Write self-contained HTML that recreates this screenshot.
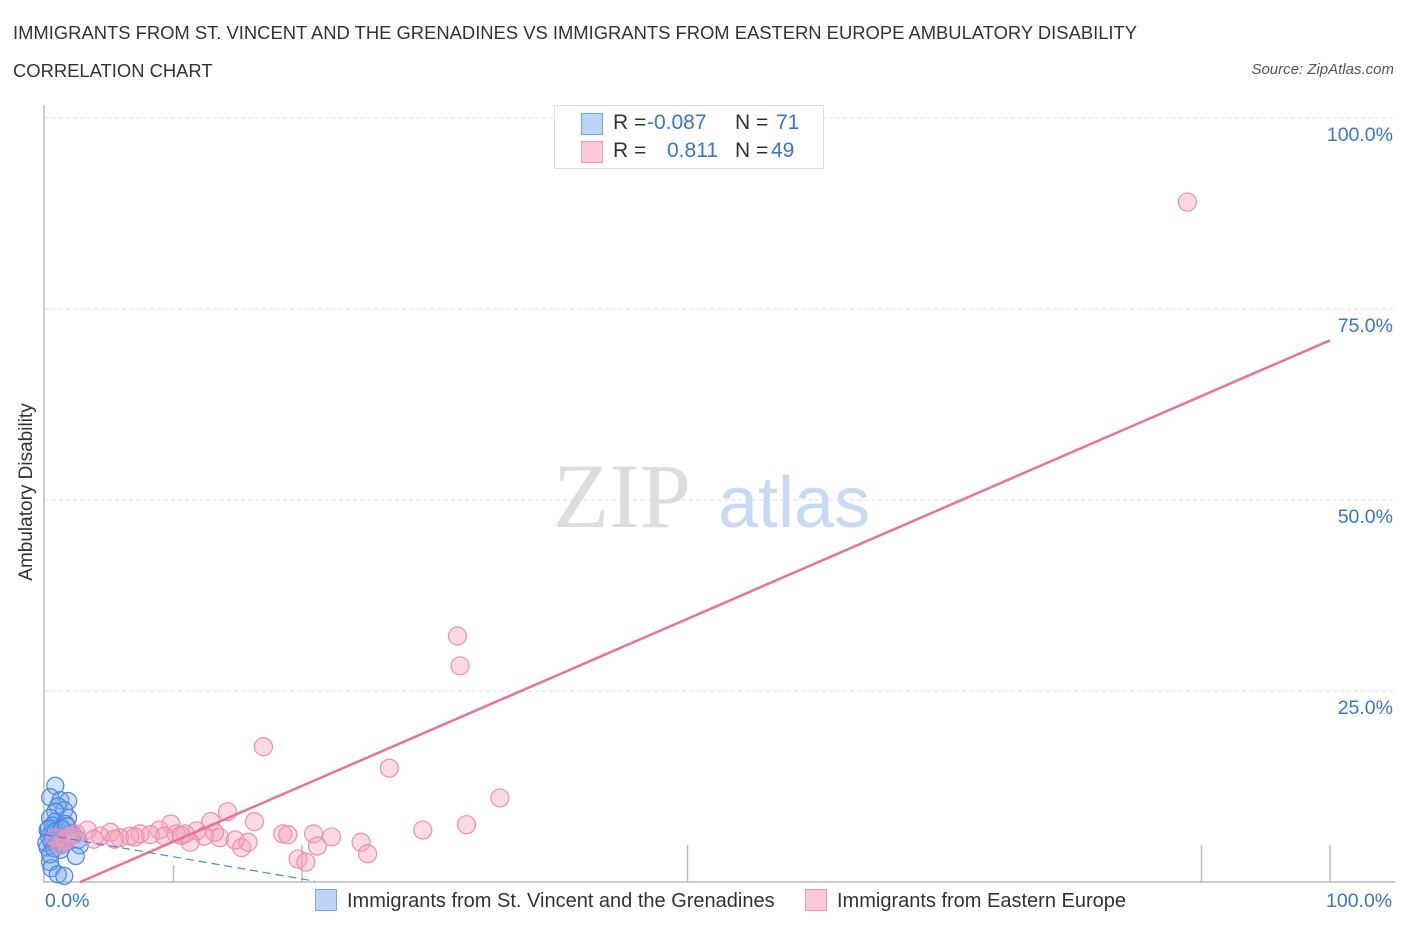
<!DOCTYPE html>
<html><head><meta charset="utf-8">
<style>
body{margin:0;background:#fff;font-family:"Liberation Sans",sans-serif;}
#wrap{position:relative;width:1406px;height:930px;overflow:hidden;}
.t{position:absolute;white-space:nowrap;}
</style></head><body>
<div id="wrap">
<div class="t" style="left:13px;top:14px;font-size:18.4px;color:#333;line-height:38px;">IMMIGRANTS FROM ST. VINCENT AND THE GRENADINES VS IMMIGRANTS FROM EASTERN EUROPE AMBULATORY DISABILITY<br>CORRELATION CHART</div>
<div class="t" style="right:12px;top:61px;font-size:15px;font-style:italic;color:#555;">Source: ZipAtlas.com</div>
<svg id="svg" width="1406" height="930" style="position:absolute;left:0;top:0"></svg>
</div>
<script>
const blueX=[0.8,0.4,1.2,1.8,1.0,1.5,0.8,1.8,0.4,0.8,1.3,0.2,0.6,1.0,0.3,0.7,1.4,2.0,0.5,0.9,1.1,0.2,0.6,1.6,2.6,2.7,2.4,0.4,0.5,1.0,1.5,1.2,0.3,0.8,1.9,0.5,1.3,0.1,0.7,2.2,1.7,0.4];
const blueY=[12.6,11.1,10.7,10.6,9.9,9.4,9.2,8.4,8.4,7.9,7.1,6.8,6.5,6.2,6.0,5.8,5.6,6.4,5.2,5.0,4.8,4.5,7.4,7.6,5.5,4.8,3.4,2.6,1.8,1.0,0.8,4.2,7.0,6.6,5.9,5.4,6.9,5.1,4.4,6.2,7.3,3.6];
const pinkX=[88.9,32.1,32.3,17.0,26.8,35.4,14.2,32.8,29.4,16.3,9.8,12.9,18.5,20.9,22.3,24.6,25.1,19.7,20.3,21.2,15.3,15.8,13.6,13.2,11.8,11.3,10.9,10.2,8.9,8.2,7.4,6.6,5.8,5.1,4.3,3.3,2.4,1.6,0.8,1.2,12.4,3.8,9.3,14.8,18.9,7.0,5.4,2.0,10.6];
const pinkY=[89.0,32.2,28.3,17.7,14.9,11.0,9.2,7.5,6.8,7.9,7.6,7.9,6.3,6.3,5.9,5.2,3.7,3.0,2.6,4.7,4.5,5.2,5.8,6.5,6.7,5.2,6.3,6.3,6.8,6.2,6.3,6.0,5.8,6.5,6.0,6.8,6.3,5.5,5.8,4.8,6.0,5.6,6.0,5.5,6.2,5.9,5.6,6.0,6.1];
const yTicks=[25,50,75,100];
const yTickLabels=["25.0%","50.0%","75.0%","100.0%"];
const xTicks=[10,20,50,90,100];
const pinkFit=[0.729,-2.0];
const blueFit=[-0.29,6.2];
const NS="http://www.w3.org/2000/svg";
const svg=document.getElementById('svg');
const X=v=>45+v*12.85, Y=v=>882-v*7.64;
function mk(tag,at,parent){const e=document.createElementNS(NS,tag);for(const k in at)e.setAttribute(k,at[k]);(parent||svg).appendChild(e);return e;}
yTicks.forEach((t,i)=>{
  const g=mk('line',{x1:45,x2:1395,y1:Y(t),y2:Y(t),stroke:'#ddd','stroke-dasharray':'4,3'});
  
  
  const l=mk('text',{x:1393,y:Y(t)+23,'text-anchor':'end','font-size':19.5,fill:'#3b73d1','font-family':'Liberation Sans'});
  l.textContent=yTickLabels[i];
  
  
});
const ax=mk('line',{x1:44,x2:44,y1:105,y2:883,stroke:'#bbb','stroke-width':1.5});


const bx=mk('line',{x1:44,x2:1395,y1:882,y2:882,stroke:'#bbb','stroke-width':1.5});


xTicks.forEach(t=>{
  const k=mk('line',{x1:X(t),x2:X(t),y1:882,y2:t==10?865:845,stroke:'#bbb','stroke-width':1.5});
  
  
});
const wm=mk('text',{x:553,y:527,'font-size':92,fill:'#ddd','font-family':'Liberation Serif'});wm.textContent='ZIP';


const wm2=mk('text',{x:718,y:527,'font-size':72,fill:'#c8daf3','font-family':'Liberation Sans'});wm2.textContent='atlas';


blueX.forEach((x,i)=>{const c=mk('circle',{cx:X(x),cy:Y(blueY[i]),r:8.5,fill:'rgba(120,170,240,0.35)',stroke:'#4a86dc','stroke-width':1.2});

});
pinkX.forEach((x,i)=>{const c=mk('circle',{cx:X(x),cy:Y(pinkY[i]),r:9,fill:'rgba(245,160,190,0.4)',stroke:'#ec8fae','stroke-width':1.2});

});
const x0=-pinkFit[1]/pinkFit[0];
const pl=mk('line',{x1:X(x0),y1:Y(0),x2:X(100),y2:Y(pinkFit[0]*100+pinkFit[1]),stroke:'#e8729a','stroke-width':2.5});


const bl=mk('line',{x1:X(0),y1:Y(blueFit[1]),x2:X(21),y2:Y(blueFit[0]*21+blueFit[1]),stroke:'#4a86dc','stroke-width':1.2,'stroke-dasharray':'8,5'});


</script>
<div class="t" style="left:-73px;top:481px;font-size:19px;color:#333;transform:rotate(-90deg);width:200px;text-align:center;">Ambulatory Disability</div>
<div class="t" style="left:45px;top:890px;font-size:19.5px;color:#3b73d1;">0.0%</div>
<div class="t" style="left:1326px;top:890px;font-size:19.5px;color:#3b73d1;">100.0%</div>
<div style="position:absolute;left:554px;top:105px;width:268px;height:62px;border:1px solid #ddd;background:#fff;font-size:21px;">
 <div style="position:absolute;left:26px;top:7px;width:20px;height:20px;background:#bcd5f7;border:1px solid #7aa8e6;"></div>
 <div class="t" style="left:58px;top:5px;color:#333;">R =</div>
 <div class="t" style="left:92px;top:5px;color:#3b73d1;">-0.087</div>
 <div class="t" style="left:180px;top:5px;color:#333;">N =</div>
 <div class="t" style="left:221px;top:5px;color:#3b73d1;">71</div>
 <div style="position:absolute;left:26px;top:35px;width:20px;height:20px;background:#fac8d8;border:1px solid #ec9ab5;"></div>
 <div class="t" style="left:58px;top:33px;color:#333;">R =</div>
 <div class="t" style="left:112px;top:33px;color:#3b73d1;">0.811</div>
 <div class="t" style="left:180px;top:33px;color:#333;">N =</div>
 <div class="t" style="left:216px;top:33px;color:#3b73d1;">49</div>
</div>
<div style="position:absolute;left:315px;top:889px;font-size:20px;color:#333;white-space:nowrap;">
 <span style="display:inline-block;width:20px;height:20px;background:#bcd5f7;border:1px solid #7aa8e6;vertical-align:-4px;margin-right:10px;"></span>Immigrants from St. Vincent and the Grenadines</div>
<div style="position:absolute;left:805px;top:889px;font-size:20px;color:#333;white-space:nowrap;">
 <span style="display:inline-block;width:20px;height:20px;background:#fac8d8;border:1px solid #ec9ab5;vertical-align:-4px;margin-right:10px;"></span>Immigrants from Eastern Europe</div>
</body></html>
